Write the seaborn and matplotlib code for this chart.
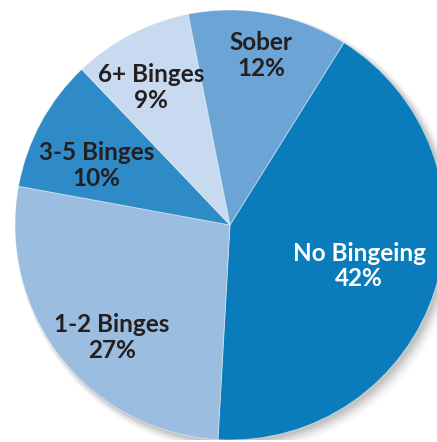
import numpy as np
import matplotlib
matplotlib.use("Agg")
import matplotlib.pyplot as plt
import seaborn as sns

# Data
categories = ["No Bingeing", "1-2 Binges", "3-5 Binges", "6+ Binges", "Sober"]
shares = [42, 27, 10, 9, 12]

# Styling
colors = ["#0a7bbb", "#9bbde0", "#2e8bc8", "#c7daef", "#6ca5d5"]
text_colors = ["white", "#231f20", "#231f20", "#231f20", "#231f20"]
label_radius = [0.63, 0.76, 0.68, 0.74, 0.80]
label_angle_shift = [0, 5.5, 4.5, 2.5, 0]

sns.set_theme(style="white")
plt.rcParams["font.family"] = ["Lato", "DejaVu Sans"]

W, H = 437, 442
fig = plt.figure(figsize=(W / 100, H / 100), dpi=100)
cx, cy, r = 230, 442 - 225, 215
ax = fig.add_axes([(cx - r) / W, (cy - r) / H, 2 * r / W, 2 * r / H])
ax.set_xlim(-1, 1)
ax.set_ylim(-1, 1)
ax.axis("off")

# soft shadow
for i, a in enumerate(np.linspace(0.05, 0.012, 8)):
    ax.add_patch(plt.Circle((0.012 + i * 0.003, -0.012 - i * 0.003), 1.0 + i * 0.004,
                            color="black", alpha=a, lw=0, zorder=0))

wedges, _ = ax.pie(shares, colors=colors, startangle=58, counterclock=False,
                   radius=1.0, center=(0, 0), frame=False,
                   wedgeprops=dict(edgecolor=(1, 1, 1, 0.5), linewidth=0.6))
for w in wedges:
    w.set_zorder(2)

for w, cat, val, tc, lr, da in zip(wedges, categories, shares, text_colors,
                                   label_radius, label_angle_shift):
    ang = np.deg2rad((w.theta1 + w.theta2) / 2 + da)
    x, y = lr * np.cos(ang), lr * np.sin(ang)
    ax.text(x, y, f"{cat}\n{val}%", ha="center", va="center", color=tc,
            fontsize=17.5, fontweight="bold", linespacing=1.15, zorder=3)

ax.set_xlim(-1, 1)
ax.set_ylim(-1, 1)
ax.set_aspect("equal")
fig.savefig("out.png", dpi=100)
